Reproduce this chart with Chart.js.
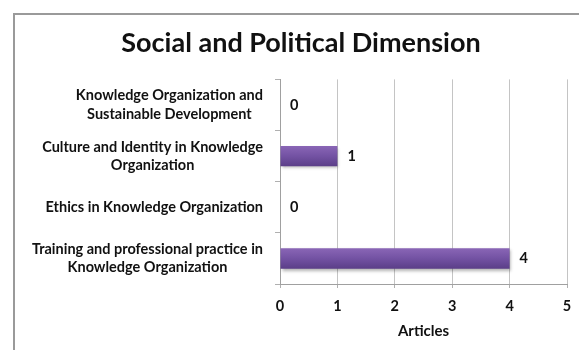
<!DOCTYPE html>
<html>
<head>
<meta charset="utf-8">
<script src="https://cdn.jsdelivr.net/npm/chart.js@4.4.1/dist/chart.umd.min.js"></script>
<style>
    html, body { margin: 0; padding: 0; background: #fff; overflow: hidden; }
    #wrap { position: relative; width: 579px; height: 350px; }
</style>
</head>
<body>
<div id="wrap">
    <canvas id="dimensionChart" width="579" height="350"></canvas>
</div>
<script>
// chart data
const categories = [
    ['Knowledge Organization and', 'Sustainable Development'],
    ['Culture and Identity in Knowledge', 'Organization'],
    ['Ethics in Knowledge Organization'],
    ['Training and professional practice in', 'Knowledge Organization']
];
const articles = [0, 1, 0, 4];
const xTicks = [0, 1, 2, 3, 4, 5];

const chartTitle = 'Social and Political Dimension';
const xTitle = 'Articles';

const fontFamily = 'Lato, "Open Sans", sans-serif';
const labelFont = 'bold 14.5px ' + fontFamily;

// outer frame like the excel chart border (runs off the picture on right/bottom)
const framePlugin = {
    id: 'frame',
    beforeDraw(chart) {
        const ctx = chart.ctx;
        ctx.save();
        ctx.fillStyle = '#ffffff';
        ctx.fillRect(0, 0, chart.width, chart.height);
        ctx.strokeStyle = '#9a9a9a';
        ctx.lineWidth = 2;
        ctx.strokeRect(14, 14, chart.width + 40, chart.height + 40);
        ctx.restore();
    }
};

// category labels: lines centred on each other, block right aligned to the axis
const categoryLabels = {
    id: 'categoryLabels',
    afterDraw(chart) {
        const ctx = chart.ctx;
        const yScale = chart.scales.y;
        const right = chart.chartArea.left - 17;
        const lineH = 18.5;
        ctx.save();
        ctx.font = labelFont;
        ctx.fillStyle = '#111';
        ctx.textAlign = 'center';
        ctx.textBaseline = 'middle';
        categories.forEach((lines, i) => {
            const widest = Math.max(...lines.map(l => ctx.measureText(l).width));
            const cx = right - widest / 2;
            const cy = yScale.getPixelForValue(i);
            lines.forEach((line, j) => {
                ctx.fillText(line, cx, cy + (j - (lines.length - 1) / 2) * lineH);
            });
        });
        ctx.restore();
    }
};

// soft shadow under the bars
const shadowPlugin = {
    id: 'barShadow',
    beforeDatasetsDraw(chart) {
        const ctx = chart.ctx;
        ctx.save();
        ctx.shadowColor = 'rgba(0, 0, 0, 0.3)';
        ctx.shadowBlur = 3;
        ctx.shadowOffsetX = 1;
        ctx.shadowOffsetY = 2;
    },
    afterDatasetsDraw(chart) {
        chart.ctx.restore();
    }
};

// value labels at the end of each bar
const valueLabels = {
    id: 'valueLabels',
    afterDatasetsDraw(chart) {
        const ctx = chart.ctx;
        const meta = chart.getDatasetMeta(0);
        ctx.save();
        ctx.font = labelFont;
        ctx.fillStyle = '#111';
        ctx.textAlign = 'left';
        ctx.textBaseline = 'middle';
        meta.data.forEach((bar, i) => {
            ctx.fillText(String(articles[i]), bar.x + 10, bar.y);
        });
        ctx.restore();
    }
};

function barFill(context) {
    const chart = context.chart;
    const yScale = chart.scales.y;
    if (!chart.chartArea || !yScale) {
        return '#7150a0';
    }
    const centre = yScale.getPixelForValue(context.dataIndex);
    const half = (yScale.height / categories.length) * 0.4 / 2;
    const grad = chart.ctx.createLinearGradient(0, centre - half, 0, centre + half);
    grad.addColorStop(0, '#8a66b6');
    grad.addColorStop(0.5, '#7352a3');
    grad.addColorStop(1, '#5b3e88');
    return grad;
}

const ctx = document.getElementById('dimensionChart').getContext('2d');
new Chart(ctx, {
    type: 'bar',
    data: {
        labels: categories,
        datasets: [{
            label: xTitle,
            data: articles,
            backgroundColor: barFill,
            borderWidth: 0,
            barPercentage: 0.4,
            categoryPercentage: 1.0
        }]
    },
    options: {
        indexAxis: 'y',
        responsive: false,
        animation: false,
        layout: {
            padding: { left: 35, right: 12, top: 27, bottom: 10 }
        },
        plugins: {
            legend: { display: false },
            tooltip: { enabled: false },
            title: {
                display: true,
                text: chartTitle,
                color: '#111',
                font: { family: fontFamily, size: 27, weight: 'bold', lineHeight: 1.2 },
                padding: { top: 0, bottom: 20 }
            }
        },
        scales: {
            x: {
                min: 0,
                max: 5,
                afterBuildTicks(scale) {
                    scale.ticks = xTicks.map(v => ({ value: v }));
                },
                afterFit(scale) {
                    scale.height = 56;
                    scale.paddingLeft = 0;
                    scale.paddingRight = 0;
                },
                grid: {
                    color: '#c4c4c4',
                    tickColor: '#b0b0b0',
                    tickLength: 4
                },
                border: { color: '#a0a0a0' },
                ticks: {
                    color: '#111',
                    padding: 10,
                    font: { family: fontFamily, size: 14.5, weight: 'bold' }
                },
                title: {
                    display: true,
                    text: xTitle,
                    color: '#111',
                    padding: { top: 0, bottom: 0 },
                    font: { family: fontFamily, size: 15, weight: 'bold', lineHeight: 1.2 }
                }
            },
            y: {
                afterFit(scale) {
                    scale.width = 245;
                },
                grid: {
                    offset: true,
                    drawOnChartArea: false,
                    tickColor: '#b0b0b0',
                    tickLength: 5
                },
                border: { color: '#a0a0a0' },
                ticks: { display: false }
            }
        }
    },
    plugins: [framePlugin, shadowPlugin, valueLabels, categoryLabels]
});
</script>
</body>
</html>
